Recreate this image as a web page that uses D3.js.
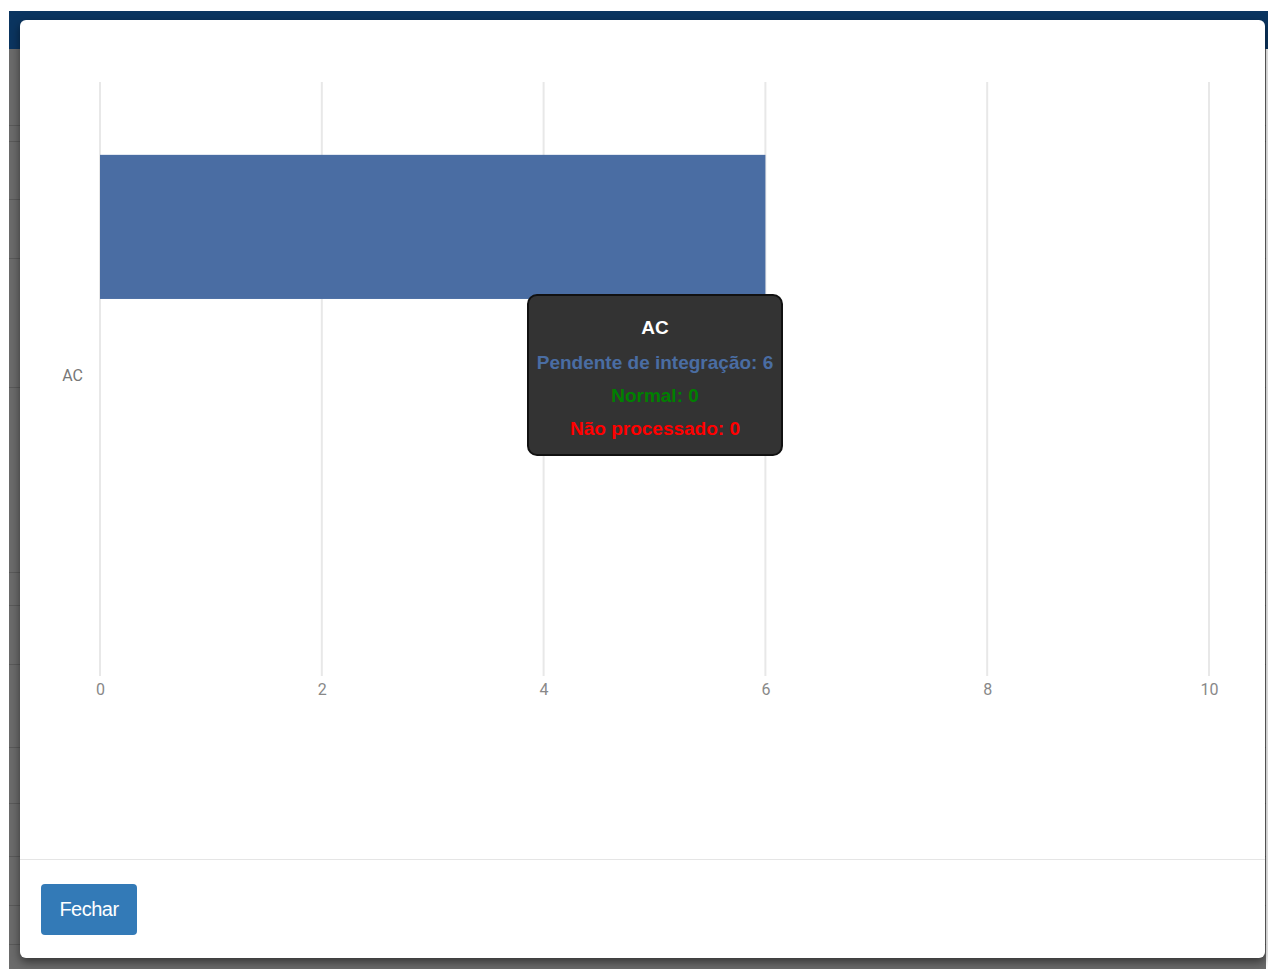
<!DOCTYPE html>
<html>
<head>
<meta charset="utf-8">
<script src="https://cdn.jsdelivr.net/npm/d3@7"></script>
<style>
  body { margin:0; width:1268px; height:969px; background:#fff; overflow:hidden; font-family:"Liberation Sans", Arial, sans-serif; position:relative; }
  #backdrop { position:absolute; left:9px; top:11px; width:1257px; height:958px; background:#6b6b6b; }
  #topbar { position:absolute; left:9px; top:11px; width:1259px; height:38px; background:#0b3560; }
  .row { position:absolute; left:9px; width:1257px; height:1px; background:#5a5a5a; }
  #modal { position:absolute; left:20px; top:20px; width:1245px; height:938px; background:#fff; border-radius:6px; box-shadow:0 4px 10px rgba(0,0,0,0.5); }
  #footer { position:absolute; left:0; top:839px; width:1245px; height:1px; background:#e5e5e5; }
  #btn { position:absolute; left:21px; top:864px; width:96px; height:51px; background:#337ab7; border-radius:4px; color:#fff; font-family:"Liberation Sans", Arial, sans-serif; font-size:20px; line-height:51px; text-align:center; letter-spacing:-0.5px; }
  #chart { position:absolute; left:0; top:0; }
  #tip { position:absolute; left:527px; top:294px; width:252px; height:158px; background:#333; border:2px solid #111; border-radius:10px; text-align:center; font-family:"Liberation Sans", Arial, sans-serif; font-weight:bold; font-size:19px; letter-spacing:0px; }
  #tip div { position:absolute; left:0; width:100%; }
</style>
</head>
<body>
<div id="backdrop"></div>
<div id="topbar"></div>
<div id="modal"><div id="footer"></div><div id="btn">Fechar</div></div>
<svg id="chart" width="1268" height="969"></svg>
<div id="tip"></div>
<script>
// dados do grafico
var categorias = ['AC'];
var series = ['Pendente de integração', 'Normal', 'Não processado'];
var cores = ['#4a6da3', '#008000', '#ff0000'];
var pendente = [6];
var normal = [0];
var naoProcessado = [0];
var xTicks = [0, 2, 4, 6, 8, 10];

// linhas da tabela atras do backdrop
var linhas = [125, 141, 199, 258, 387, 572, 605, 664, 747, 803, 856, 905, 944];
d3.select('body').selectAll('.row').data(linhas).enter().insert('div', '#modal')
  .attr('class', 'row').style('top', function(d){ return d + 'px'; });

var svg = d3.select('#chart');
var x = d3.scaleLinear().domain([0, 10]).range([100, 1209]);
var y = d3.scaleBand().domain(categorias).range([82, 670]).paddingOuter(0.18).paddingInner(0).align(0.468);
var ySub = d3.scaleBand().domain(series).range([0, y.bandwidth()]);

// grid
svg.append('g').selectAll('line').data(xTicks).enter().append('line')
  .attr('x1', function(d){ return x(d); }).attr('x2', function(d){ return x(d); })
  .attr('y1', 82).attr('y2', 676)
  .attr('stroke', '#e8e8e8').attr('stroke-width', 2);

var xAxis = d3.axisBottom(x).tickValues(xTicks).tickSize(0).tickPadding(0);
var gx = svg.append('g').attr('transform', 'translate(0,684)').call(xAxis);
gx.select('.domain').remove();
gx.selectAll('text').attr('fill', '#888').style('font-family', 'Roboto, "Liberation Sans", sans-serif').style('font-size', '16px');

var yAxis = d3.axisLeft(y).tickSize(0).tickPadding(0);
var gy = svg.append('g').attr('transform', 'translate(83,0)').call(yAxis);
gy.select('.domain').remove();
gy.selectAll('text').attr('fill', '#777').attr('dy', '0.65em').style('font-family', 'Roboto, "Liberation Sans", sans-serif').style('font-size', '16px');

// barras agrupadas
var valores = [pendente, normal, naoProcessado];
categorias.forEach(function(cat, ci){
  var g = svg.append('g').attr('transform', 'translate(0,' + y(cat) + ')');
  g.selectAll('rect').data(series).enter().append('rect')
    .attr('x', x(0))
    .attr('y', function(s){ return ySub(s); })
    .attr('height', ySub.bandwidth())
    .attr('width', function(s, i){ return x(valores[i][ci]) - x(0); })
    .attr('fill', function(s, i){ return cores[i]; });
});

// tooltip
var tip = d3.select('#tip');
tip.append('div').style('top', '21px').style('color', '#fff').text(categorias[0]);
series.forEach(function(s, i){
  tip.append('div').style('top', (56 + i * 33) + 'px').style('color', cores[i])
    .text(s + ': ' + valores[i][0]);
});
</script>
</body>
</html>
